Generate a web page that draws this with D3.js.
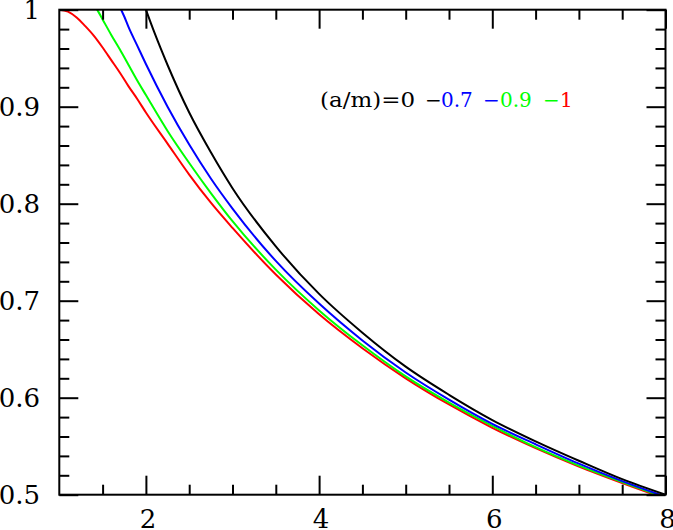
<!DOCTYPE html>
<html>
<head>
<meta charset="utf-8">
<script src="https://cdn.jsdelivr.net/npm/d3@7/dist/d3.min.js"></script>
<style>
  html, body { margin: 0; padding: 0; background: #fff; }
  svg { display: block; }
  text { font-family: "DejaVu Serif", serif; }
</style>
</head>
<body>
<svg id="chart" width="673" height="530"></svg>
<script>
// ---- data ----
const xTickLabels = [2, 4, 6, 8];
const yTickLabels = [0.5, 0.6, 0.7, 0.8, 0.9, 1];

// a/m = -1 (red)
const redX = [1, 1.1, 1.2, 1.3, 1.4, 1.5, 1.6, 1.7, 1.8, 1.9, 2.0, 2.25, 2.5, 2.75, 3, 3.5, 4, 4.5, 5, 5.5, 6, 6.5, 7, 7.5, 8];
const redY = [1, 0.998, 0.992, 0.983, 0.973, 0.961, 0.948, 0.935, 0.921, 0.908, 0.894, 0.862, 0.830, 0.801, 0.775, 0.727, 0.686, 0.651, 0.620, 0.593, 0.569, 0.548, 0.529, 0.512, 0.496];
// a/m = -0.9 (green)
const greenX = [1.436, 1.45, 1.5, 1.6, 1.7, 1.8, 1.9, 2.0, 2.25, 2.5, 2.75, 3, 3.5, 4, 4.5, 5, 5.5, 6, 6.5, 7, 7.5, 8];
const greenY = [1, 0.998, 0.990, 0.974, 0.959, 0.943, 0.927, 0.912, 0.875, 0.842, 0.811, 0.782, 0.732, 0.690, 0.654, 0.622, 0.595, 0.571, 0.549, 0.530, 0.513, 0.497];
// a/m = -0.7 (blue)
const blueX = [1.714, 1.75, 1.8, 1.9, 2.0, 2.25, 2.5, 2.75, 3, 3.5, 4, 4.5, 5, 5.5, 6, 6.5, 7, 7.5, 8];
const blueY = [1, 0.993, 0.982, 0.963, 0.944, 0.900, 0.861, 0.826, 0.795, 0.741, 0.697, 0.659, 0.626, 0.598, 0.573, 0.552, 0.532, 0.514, 0.498];
// a/m = 0 (black)
const blackX = [2.0, 2.1, 2.25, 2.5, 2.75, 3, 3.5, 4, 4.5, 5, 5.5, 6, 6.5, 7, 7.5, 8];
const blackY = [1, 0.976, 0.943, 0.894, 0.853, 0.816, 0.756, 0.707, 0.667, 0.632, 0.603, 0.577, 0.555, 0.535, 0.516, 0.500];

const seriesNames = ["0", "-0.7", "-0.9", "-1"];
const seriesColors = ["#000000", "#0000ff", "#00ff00", "#ff0000"];

// ---- layout ----
const svg = d3.select("#chart");
const L = 59.3, R = 665.5, T = 9.7, B = 494.7;
const x = d3.scaleLinear().domain([1, 8]).range([L, R]);
const y = d3.scaleLinear().domain([0.5, 1]).range([B, T]);

svg.append("defs").append("clipPath").attr("id", "clip")
  .append("rect").attr("x", L).attr("y", T).attr("width", R - L).attr("height", B - T);

// ---- curves ----
const series = [
  { xs: blackX, ys: blackY, color: seriesColors[0] },
  { xs: blueX, ys: blueY, color: seriesColors[1] },
  { xs: greenX, ys: greenY, color: seriesColors[2] },
  { xs: redX, ys: redY, color: seriesColors[3] }
];
const line = d3.line().x(d => x(d[0])).y(d => y(d[1])).curve(d3.curveMonotoneX);
const g = svg.append("g").attr("clip-path", "url(#clip)");
series.slice().reverse().forEach(s => {
  g.append("path")
    .datum(s.xs.map((v, i) => [v, s.ys[i]]))
    .attr("d", line)
    .attr("fill", "none")
    .attr("stroke", s.color)
    .attr("stroke-width", 2);
});

// ---- axes (ticks inward on all four sides) ----
const major = 19, minor = 10;
const xMinor = d3.range(1.5, 8, 0.5).filter(v => Math.abs(v - Math.round(v / 2) * 2) > 1e-6);
const yMinor = d3.range(0.52, 1, 0.02).filter(v => Math.abs(v * 10 - Math.round(v * 10)) > 1e-6);

function axis(gen, scaleVals, len, transform) {
  svg.append("g").attr("transform", transform)
    .call(gen.tickValues(scaleVals).tickSize(len).tickFormat(""))
    .call(a => a.select(".domain").remove())
    .call(a => a.selectAll("line").attr("stroke", "#000").attr("stroke-width", 2));
}
// bottom
axis(d3.axisTop(x), xTickLabels, major, `translate(0,${B})`);
axis(d3.axisTop(x), xMinor, minor, `translate(0,${B})`);
// top
axis(d3.axisBottom(x), xTickLabels, major, `translate(0,${T})`);
axis(d3.axisBottom(x), xMinor, minor, `translate(0,${T})`);
// left
axis(d3.axisRight(y), yTickLabels, major, `translate(${L},0)`);
axis(d3.axisRight(y), yMinor, minor, `translate(${L},0)`);
// right
axis(d3.axisLeft(y), yTickLabels, major, `translate(${R},0)`);
axis(d3.axisLeft(y), yMinor, minor, `translate(${R},0)`);

// frame
svg.append("rect").attr("x", L).attr("y", T).attr("width", R - L).attr("height", B - T)
  .attr("fill", "none").attr("stroke", "#000").attr("stroke-width", 2);

// tick labels
const fmtY = d => (d === 1 ? "1" : d3.format(".1f")(d));
svg.append("g").selectAll("text").data(yTickLabels).join("text")
  .attr("x", 40).attr("y", d => y(d)).attr("dy", "0.36em")
  .attr("text-anchor", "end").attr("font-size", 26).attr("fill", "#000")
  .text(fmtY);
svg.append("g").selectAll("text").data(xTickLabels).join("text")
  .attr("x", d => x(d) + 2).attr("y", 528)
  .attr("text-anchor", "middle").attr("font-size", 26).attr("fill", "#000")
  .text(d => d);

// legend
const legend = svg.append("g").attr("font-size", 20);
const legendPieces = [
  { t: "(a/m)=0", x: 320, c: seriesColors[0], w: 95 },
  { t: "\u2212", x: 425, c: seriesColors[0] },
  { t: "0.7", x: 441, c: seriesColors[1] },
  { t: "\u2212", x: 483, c: seriesColors[1] },
  { t: "0.9", x: 500, c: seriesColors[2] },
  { t: "\u2212", x: 543, c: seriesColors[2] },
  { t: "1", x: 560, c: seriesColors[3] }
];
legendPieces.forEach(p => {
  const t = legend.append("text").attr("x", p.x).attr("y", 107).attr("fill", p.c).text(p.t);
  if (p.w) t.attr("textLength", p.w).attr("lengthAdjust", "spacingAndGlyphs");
});
</script>
</body>
</html>
